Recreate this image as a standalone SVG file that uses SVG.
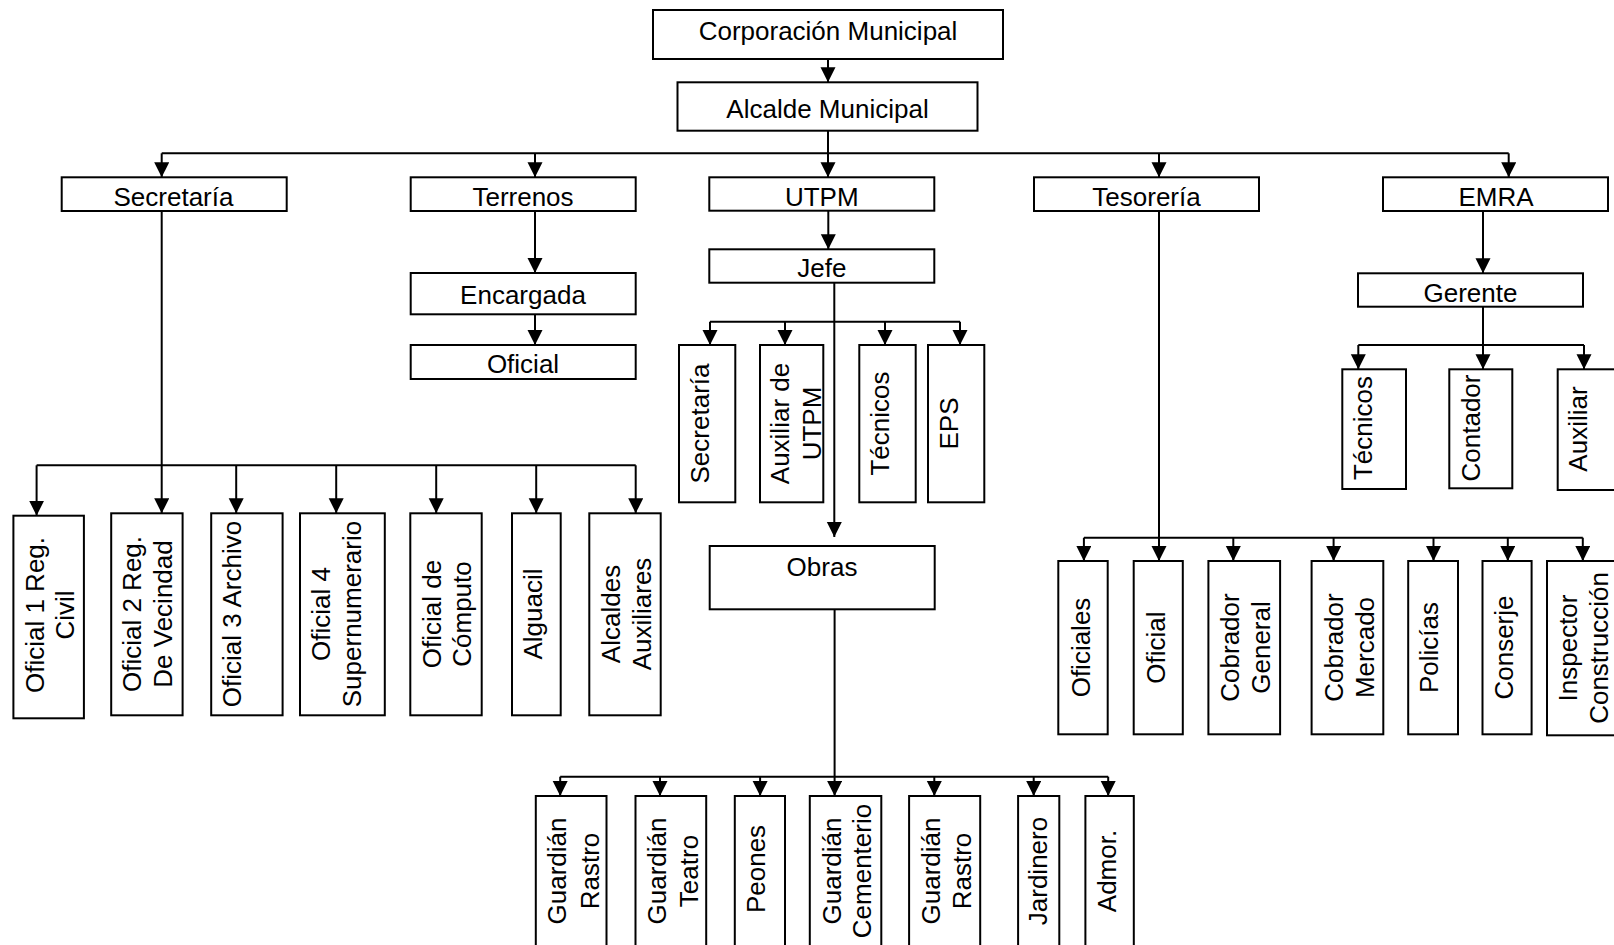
<svg xmlns="http://www.w3.org/2000/svg" width="1614" height="945" viewBox="0 0 1614 945">
<style>
.box{fill:#fff;stroke:#000;stroke-width:2}
.t{font-family:"Liberation Sans",Arial,sans-serif;font-size:26px;fill:#000;text-anchor:middle}
.c{stroke:#000;stroke-width:2;fill:none}
.a{marker-end:url(#arr)}
</style>
<defs>
<marker id="arr" markerUnits="userSpaceOnUse" markerWidth="16" markerHeight="16" refX="15" refY="7.5" orient="auto">
<path d="M0,0 L15,7.5 L0,15 Z" fill="#000"/>
</marker>
</defs>
<rect width="1614" height="945" fill="#fff"/>
<g id="connectors">
<path class="c a" d="M828,59 V82.3"/>
<path class="c" d="M828,130.7 V153.3 M161.7,153.3 H1508.7"/>
<path class="c a" d="M161.7,153.3 V177.3"/>
<path class="c a" d="M535,153.3 V177.3"/>
<path class="c a" d="M828,153.3 V177.3"/>
<path class="c a" d="M1159,153.3 V177.3"/>
<path class="c a" d="M1508.7,153.3 V177.3"/>
<path class="c a" d="M161.7,211 V513.3"/>
<path class="c" d="M36.6,465.3 H635.7"/>
<path class="c a" d="M36.6,465.3 V515.7"/>
<path class="c a" d="M236.2,465.3 V513.3"/>
<path class="c a" d="M336.2,465.3 V513.3"/>
<path class="c a" d="M436.2,465.3 V513.3"/>
<path class="c a" d="M536.2,465.3 V513.3"/>
<path class="c a" d="M635.7,465.3 V513.3"/>
<path class="c a" d="M535,211 V273"/>
<path class="c a" d="M535,314.3 V345"/>
<path class="c a" d="M828.3,210.7 V249.3"/>
<path class="c a" d="M834.3,282.7 V537"/>
<path class="c" d="M710,321.7 H960"/>
<path class="c a" d="M710,321.7 V345"/>
<path class="c a" d="M785,321.7 V345"/>
<path class="c a" d="M885,321.7 V345"/>
<path class="c a" d="M960,321.7 V345"/>
<path class="c a" d="M834.6,609.3 V796"/>
<path class="c" d="M560.2,776.7 H1108.2"/>
<path class="c a" d="M560.2,776.7 V796"/>
<path class="c a" d="M660,776.7 V796"/>
<path class="c a" d="M760.1,776.7 V796"/>
<path class="c a" d="M934.3,776.7 V796"/>
<path class="c a" d="M1033.7,776.7 V796"/>
<path class="c a" d="M1108.2,776.7 V796"/>
<path class="c a" d="M1159,211 V561"/>
<path class="c" d="M1083.9,537.7 H1582.8"/>
<path class="c a" d="M1083.9,537.7 V561"/>
<path class="c a" d="M1233.3,537.7 V561"/>
<path class="c a" d="M1333.6,537.7 V561"/>
<path class="c a" d="M1433.5,537.7 V561"/>
<path class="c a" d="M1507.8,537.7 V561"/>
<path class="c a" d="M1582.8,537.7 V561"/>
<path class="c a" d="M1483,211 V273.3"/>
<path class="c a" d="M1483,306.7 V369.3"/>
<path class="c" d="M1358.3,345 H1584"/>
<path class="c a" d="M1358.3,345 V369.3"/>
<path class="c a" d="M1584,345 V369.3"/>
</g>
<g id="corporacion"><rect class="box" x="653" y="10" width="350" height="49"/><text class="t" x="828" y="39.5">Corporación Municipal</text></g>
<g id="alcalde"><rect class="box" x="677.5" y="82.3" width="300" height="48.4"/><text class="t" x="827.5" y="118">Alcalde Municipal</text></g>
<g id="secretaria"><rect class="box" x="61.7" y="177.3" width="225" height="33.7"/><text class="t" x="173.5" y="205.5">Secretaría</text></g>
<g id="terrenos"><rect class="box" x="410.7" y="177.3" width="225" height="33.7"/><text class="t" x="523" y="205.5">Terrenos</text></g>
<g id="utpm"><rect class="box" x="709.3" y="177.3" width="225" height="33.4"/><text class="t" x="821.8" y="205.5">UTPM</text></g>
<g id="tesoreria"><rect class="box" x="1034" y="177.3" width="225" height="33.7"/><text class="t" x="1146.5" y="205.5">Tesorería</text></g>
<g id="emra"><rect class="box" x="1383" y="177.3" width="225" height="33.7"/><text class="t" x="1496" y="205.5">EMRA</text></g>
<g id="encargada"><rect class="box" x="410.7" y="273" width="225" height="41.3"/><text class="t" x="523" y="303.5">Encargada</text></g>
<g id="oficial-terrenos"><rect class="box" x="410.7" y="345" width="225" height="34"/><text class="t" x="523" y="373.3">Oficial</text></g>
<g id="jefe"><rect class="box" x="709.3" y="249.3" width="225" height="33.4"/><text class="t" x="821.8" y="277.3">Jefe</text></g>
<g id="gerente"><rect class="box" x="1358" y="273.3" width="225" height="33.4"/><text class="t" x="1470.5" y="301.5">Gerente</text></g>
<g id="obras"><rect class="box" x="709.7" y="546" width="225" height="63.3"/><text class="t" x="822" y="576">Obras</text></g>

<g id="sec-oficial1"><rect class="box" x="13.4" y="515.7" width="70.5" height="202.6"/><text class="t" transform="translate(43.5,615) rotate(-90)"><tspan x="0" y="0">Oficial 1 Reg.</tspan><tspan x="0" dy="30">Civil</tspan></text></g>
<g id="sec-oficial2"><rect class="box" x="111.2" y="513.3" width="71.4" height="202"/><text class="t" transform="translate(141,614) rotate(-90)"><tspan x="0" y="0">Oficial 2 Reg.</tspan><tspan x="0" dy="31">De Vecindad</tspan></text></g>
<g id="sec-oficial3"><rect class="box" x="211.2" y="513.3" width="71.4" height="202"/><text class="t" transform="translate(241,614) rotate(-90)">Oficial 3 Archivo</text></g>
<g id="sec-oficial4"><rect class="box" x="300" y="513.3" width="84.8" height="202"/><text class="t" transform="translate(329.5,614) rotate(-90)"><tspan x="0" y="0">Oficial 4</tspan><tspan x="0" dy="31">Supernumerario</tspan></text></g>
<g id="sec-computo"><rect class="box" x="410.3" y="513.3" width="71.4" height="202"/><text class="t" transform="translate(441,614) rotate(-90)"><tspan x="0" y="0">Oficial de</tspan><tspan x="0" dy="30">Cómputo</tspan></text></g>
<g id="sec-alguacil"><rect class="box" x="512" y="513.3" width="48.7" height="202"/><text class="t" transform="translate(541.5,614) rotate(-90)">Alguacil</text></g>
<g id="sec-alcaldes"><rect class="box" x="589.3" y="513.3" width="71.4" height="202"/><text class="t" transform="translate(619.5,614) rotate(-90)"><tspan x="0" y="0">Alcaldes</tspan><tspan x="0" dy="31">Auxiliares</tspan></text></g>

<g id="utpm-secretaria"><rect class="box" x="679" y="345" width="56.3" height="157.3"/><text class="t" transform="translate(709,423.5) rotate(-90)">Secretaría</text></g>
<g id="utpm-auxiliar"><rect class="box" x="760" y="345" width="63.3" height="157.3"/><text class="t" transform="translate(789,423.5) rotate(-90)"><tspan x="0" y="0">Auxiliar de</tspan><tspan x="0" dy="31.5">UTPM</tspan></text></g>
<g id="utpm-tecnicos"><rect class="box" x="859.3" y="345" width="56.4" height="157.3"/><text class="t" transform="translate(889,423.5) rotate(-90)">Técnicos</text></g>
<g id="utpm-eps"><rect class="box" x="928" y="345" width="56.3" height="157.3"/><text class="t" transform="translate(957.5,423.5) rotate(-90)">EPS</text></g>

<g id="emra-tecnicos"><rect class="box" x="1342.3" y="369.3" width="63.7" height="119.7"/><text class="t" transform="translate(1372,428) rotate(-90)">Técnicos</text></g>
<g id="emra-contador"><rect class="box" x="1449.3" y="369.3" width="63" height="119"/><text class="t" transform="translate(1479.5,428) rotate(-90)">Contador</text></g>
<g id="emra-auxiliar"><rect class="box" x="1557.7" y="369.3" width="70" height="120.7"/><text class="t" transform="translate(1587,429) rotate(-90)">Auxiliar</text></g>

<g id="tes-oficiales"><rect class="box" x="1058.3" y="561" width="49.4" height="173.3"/><text class="t" transform="translate(1090,647.5) rotate(-90)">Oficiales</text></g>
<g id="tes-oficial"><rect class="box" x="1133.7" y="561" width="49.1" height="173.3"/><text class="t" transform="translate(1165,647.5) rotate(-90)">Oficial</text></g>
<g id="tes-cobrador-general"><rect class="box" x="1208.4" y="561" width="71.7" height="173.3"/><text class="t" transform="translate(1238.5,647.5) rotate(-90)"><tspan x="0" y="0">Cobrador</tspan><tspan x="0" dy="31.5">General</tspan></text></g>
<g id="tes-cobrador-mercado"><rect class="box" x="1311.6" y="561" width="71.7" height="173.3"/><text class="t" transform="translate(1342.7,647.5) rotate(-90)"><tspan x="0" y="0">Cobrador</tspan><tspan x="0" dy="31">Mercado</tspan></text></g>
<g id="tes-policias"><rect class="box" x="1408.2" y="561" width="49.8" height="173.3"/><text class="t" transform="translate(1438,647.5) rotate(-90)">Policías</text></g>
<g id="tes-conserje"><rect class="box" x="1482.5" y="561" width="49.1" height="173.3"/><text class="t" transform="translate(1512.5,647.5) rotate(-90)">Conserje</text></g>
<g id="tes-inspector"><rect class="box" x="1547" y="561" width="90" height="174.3"/><text class="t" transform="translate(1576.5,648) rotate(-90)"><tspan x="0" y="0">Inspector</tspan><tspan x="0" dy="31.5">Construcción</tspan></text></g>

<g id="obras-guardian-rastro1"><rect class="box" x="535.8" y="796" width="70.7" height="160"/><text class="t" transform="translate(566,871) rotate(-90)"><tspan x="0" y="0">Guardián</tspan><tspan x="0" dy="32.5">Rastro</tspan></text></g>
<g id="obras-guardian-teatro"><rect class="box" x="635.5" y="796" width="70.7" height="160"/><text class="t" transform="translate(665.5,871) rotate(-90)"><tspan x="0" y="0">Guardián</tspan><tspan x="0" dy="32">Teatro</tspan></text></g>
<g id="obras-peones"><rect class="box" x="734.8" y="796" width="50.2" height="160"/><text class="t" transform="translate(765,869) rotate(-90)">Peones</text></g>
<g id="obras-guardian-cementerio"><rect class="box" x="809.8" y="796" width="71.5" height="160"/><text class="t" transform="translate(840.5,871) rotate(-90)"><tspan x="0" y="0">Guardián</tspan><tspan x="0" dy="30.5">Cementerio</tspan></text></g>
<g id="obras-guardian-rastro2"><rect class="box" x="909.1" y="796" width="71.1" height="160"/><text class="t" transform="translate(940,871) rotate(-90)"><tspan x="0" y="0">Guardián</tspan><tspan x="0" dy="31">Rastro</tspan></text></g>
<g id="obras-jardinero"><rect class="box" x="1018.1" y="796" width="41.2" height="160"/><text class="t" transform="translate(1047,871) rotate(-90)">Jardinero</text></g>
<g id="obras-admor"><rect class="box" x="1085.4" y="796" width="48.4" height="160"/><text class="t" transform="translate(1116,871) rotate(-90)">Admor.</text></g>
</svg>
